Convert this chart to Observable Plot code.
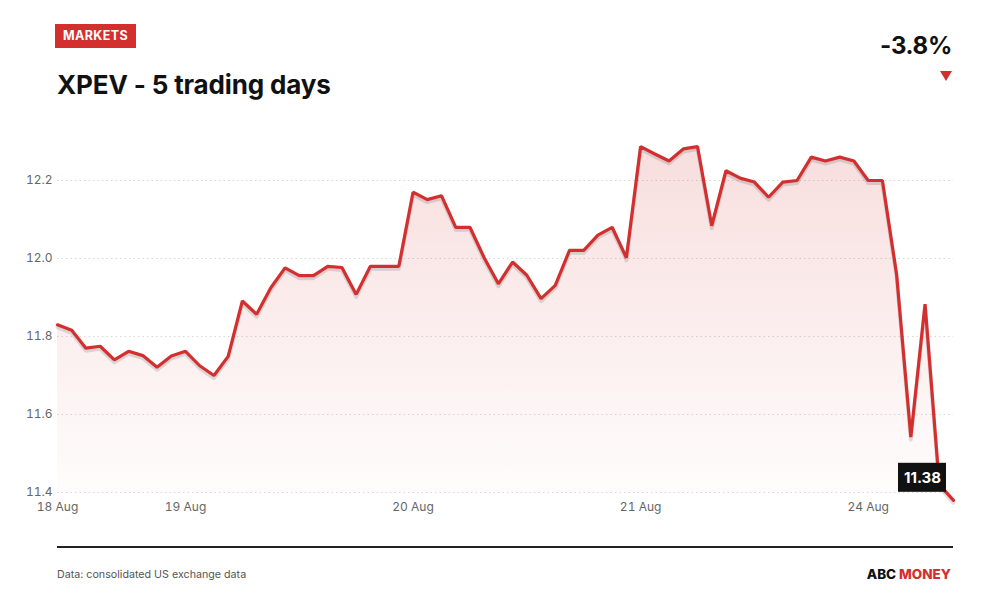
<!DOCTYPE html>
<html>
<head>
<meta charset="utf-8">
<script src="https://cdn.jsdelivr.net/npm/d3@7"></script>
<script src="https://cdn.jsdelivr.net/npm/@observablehq/plot@0.6"></script>
<style>
  html, body { margin: 0; padding: 0; background: #fff; }
  #page { position: relative; width: 1000px; height: 600px; font-family: Inter, "Noto Sans", sans-serif; color: #111; overflow: hidden; }
  #badge { position: absolute; left: 55px; top: 24px; width: 81px; height: 24px; background: #d32f2f; color: #fff; font-weight: 700; font-size: 12.5px; line-height: 24px; text-align: center; letter-spacing: 0.4px; }
  #title { position: absolute; left: 57px; top: 69px; font-size: 26px; font-weight: 700; letter-spacing: -0.15px; color: #111; }
  #change { position: absolute; right: 48px; top: 31px; font-size: 24px; font-weight: 700; color: #111; letter-spacing: -0.3px; }
  #arrow { position: absolute; right: 48px; top: 71px; width: 0; height: 0; border-left: 6px solid transparent; border-right: 6px solid transparent; border-top: 10px solid #d32f2f; }
  #chart { position: absolute; left: 0; top: 100px; }
  #rule { position: absolute; left: 57px; top: 546px; width: 896px; height: 2px; background: #222; }
  #source { position: absolute; left: 57px; top: 568px; font-size: 10.7px; color: #555; }
  #brand { position: absolute; right: 49px; top: 566px; font-size: 13.5px; font-weight: 800; color: #111; }
  #brand span { color: #d32f2f; }
</style>
</head>
<body>
<div id="page">
  <div id="badge">MARKETS</div>
  <div id="title">XPEV - 5 trading days</div>
  <div id="change"></div>
  <div id="arrow"></div>
  <div id="chart"></div>
  <div id="rule"></div>
  <div id="source">Data: consolidated US exchange data</div>
  <div id="brand">ABC <span>MONEY</span></div>
</div>
<script>
// ---- data ----
const dayLabels = ["18 Aug", "19 Aug", "20 Aug", "21 Aug", "24 Aug"];
const dayStartIndex = [0, 9, 25, 41, 57];
const yTicks = [11.4, 11.6, 11.8, 12.0, 12.2];
const yDomain = [11.4, 12.3];
const changeText = "-3.8%";
const prices = [
  11.830, 11.816, 11.770, 11.775, 11.740, 11.762, 11.751, 11.721, 11.750,
  11.762, 11.725, 11.700, 11.749, 11.891, 11.857, 11.925, 11.976, 11.956, 11.956, 11.980, 11.977, 11.908, 11.980, 11.980, 11.980,
  12.170, 12.151, 12.161, 12.080, 12.080, 12.002, 11.935, 11.991, 11.957, 11.897, 11.931, 12.021, 12.021, 12.060, 12.080, 12.002,
  12.287, 12.268, 12.250, 12.281, 12.287, 12.084, 12.225, 12.206, 12.196, 12.157, 12.196, 12.200, 12.260, 12.250, 12.260, 12.250,
  12.200, 12.200, 11.959, 11.542, 11.883, 11.420, 11.380
];

const data = prices.map((p, i) => ({i, p}));
const last = data[data.length - 1];
document.getElementById("change").textContent = changeText;

const red = "#d32f2f";

const chart = Plot.plot({
  width: 1000,
  height: 430,
  marginLeft: 57,
  marginRight: 47,
  marginTop: 41,
  marginBottom: 38,
  style: {fontFamily: "Inter, 'Noto Sans', sans-serif", fontSize: "12px", color: "#666", background: "transparent", overflow: "visible"},
  x: {type: "linear", domain: [0, prices.length - 1], ticks: dayStartIndex, tickFormat: i => dayLabels[dayStartIndex.indexOf(i)], tickSize: 0, tickPadding: 10, label: null},
  y: {domain: yDomain, ticks: yTicks, tickFormat: d => d.toFixed(1), tickSize: 0, tickPadding: 5, label: null},
  marks: [
    Plot.ruleY(yTicks, {stroke: "#d8d8d8", strokeDasharray: "1.5,3"}),
    Plot.areaY(data, {x: "i", y1: () => yDomain[0], y2: "p", fill: "url(#areaGrad)"}),
    Plot.line(data, {x: "i", y: "p", stroke: "#000", strokeOpacity: 0.12, strokeWidth: 4, dy: 2.5}),
    Plot.line(data, {x: "i", y: "p", stroke: red, strokeWidth: 3.2, strokeLinejoin: "miter"}),
    // black label box anchored to the last data point (zero-size rect expanded by negative insets)
    Plot.rect([last], {x1: "i", x2: "i", y1: "p", y2: "p", insetLeft: -55, insetRight: 7, insetTop: -37, insetBottom: 8, fill: "#111"}),
    Plot.text([last], {x: "i", y: "p", text: d => d.p.toFixed(2), textAnchor: "middle", dx: -31, dy: -22.5, fill: "#fff", fontWeight: 700, fontSize: 15})
  ]
});

document.getElementById("chart").appendChild(chart);

// gradient definition for the area
const svg = d3.select(chart);
const defs = svg.insert("defs", ":first-child");
const grad = defs.append("linearGradient").attr("id", "areaGrad").attr("x1", 0).attr("y1", 0).attr("x2", 0).attr("y2", 1);
grad.append("stop").attr("offset", "0%").attr("stop-color", red).attr("stop-opacity", 0.16);
grad.append("stop").attr("offset", "100%").attr("stop-color", red).attr("stop-opacity", 0.01);
</script>
</body>
</html>
